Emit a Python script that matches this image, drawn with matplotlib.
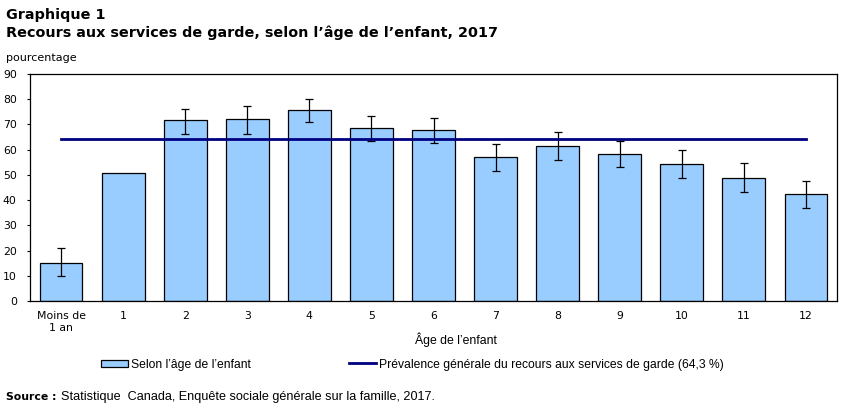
import numpy as np
import matplotlib
matplotlib.use("Agg")
import matplotlib.pyplot as plt
from matplotlib.patches import Patch
from matplotlib.lines import Line2D

categories = ["Moins de\n1 an", "1", "2", "3", "4", "5", "6", "7", "8", "9", "10", "11", "12"]
values = [15.1, 50.7, 71.7, 72.1, 75.7, 68.5, 67.7, 57.0, 61.4, 58.2, 54.2, 48.7, 42.3]
ci_low = [10.1, np.nan, 66.1, 66.1, 70.9, 63.4, 62.6, 51.5, 55.8, 53.1, 48.7, 43.1, 36.9]
ci_high = [20.9, np.nan, 76.3, 77.3, 80.0, 73.3, 72.5, 62.2, 66.9, 63.4, 59.8, 54.6, 47.5]
overall = 64.3

W, H = 847, 409
fig = plt.figure(figsize=(W / 100, H / 100), dpi=100)
ax = fig.add_axes([30 / W, 1 - 301 / H, (837 - 30) / W, (301 - 74) / H])

x = np.arange(len(categories))
vals = np.array(values)
lo = vals - np.array(ci_low)
hi = np.array(ci_high) - vals

ax.bar(x, vals, width=0.69, color="#99ccff", edgecolor="black", linewidth=0.9, zorder=2)
ax.errorbar(x, vals, yerr=[lo, hi], fmt="none", ecolor="black", elinewidth=0.9,
            capsize=2.8, capthick=0.9, zorder=3)
ax.plot([x[0], x[-1]], [overall, overall], color="#000080", linewidth=2, zorder=4)

ax.set_xlim(-0.5, len(categories) - 0.5)
ax.set_ylim(0, 90)
ax.set_yticks(range(0, 91, 10))
ax.set_xticks(x)
ax.set_xticklabels(categories, fontsize=7.8, linespacing=1.3)
ax.tick_params(axis="x", length=0, pad=7)
ax.tick_params(axis="y", length=2.5, width=0.8, labelsize=7.8, pad=7)
for s in ax.spines.values():
    s.set_linewidth(0.9)

fig.text(6 / W, 1 - 15 / H, "Graphique 1", fontsize=10.4, fontweight="bold", va="center")
fig.text(6 / W, 1 - 33 / H, "Recours aux services de garde, selon l\u2019\u00e2ge de l\u2019enfant, 2017",
         fontsize=10.4, fontweight="bold", va="center")
fig.text(6 / W, 1 - 58 / H, "pourcentage", fontsize=8, va="center")
fig.text(456 / W, 1 - 340 / H, "\u00c2ge de l\u2019enfant", fontsize=8.8,
         family="Liberation Sans", ha="center", va="center")

leg_kw = dict(frameon=False, borderaxespad=0, borderpad=0, loc="center left",
              handlelength=2.2, handletextpad=0.3,
              prop={"family": "Liberation Sans", "size": 8.7})
fig.legend([Patch(facecolor="#99ccff", edgecolor="black", linewidth=0.9)],
           ["Selon l\u2019\u00e2ge de l\u2019enfant"],
           bbox_to_anchor=(101 / W, 1 - 364.7 / H), handleheight=0.6, **leg_kw)
fig.legend([Line2D([], [], color="#000080", linewidth=2)],
           ["Pr\u00e9valence g\u00e9n\u00e9rale du recours aux services de garde (64,3 %)"],
           bbox_to_anchor=(349 / W, 1 - 364.7 / H), **leg_kw)

fig.text(6 / W, 1 - 397 / H, "Source :", fontsize=7.8, fontweight="bold", va="center")
fig.text(61 / W, 1 - 397 / H,
         "Statistique  Canada, Enqu\u00eate sociale g\u00e9n\u00e9rale sur la famille, 2017.",
         fontsize=9.1, family="Liberation Sans", va="center")

fig.savefig("out.png", dpi=100)
